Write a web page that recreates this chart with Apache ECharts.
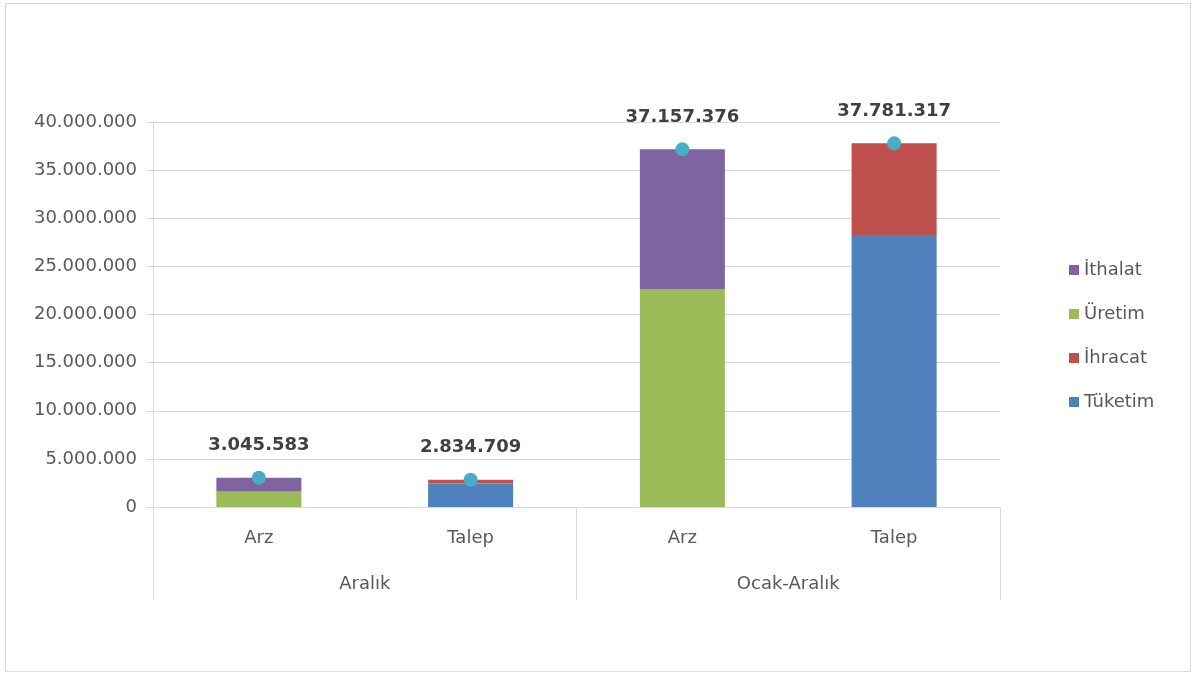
<!DOCTYPE html>
<html>
<head>
<meta charset="utf-8">
<script src="https://cdn.jsdelivr.net/npm/echarts@6/dist/echarts.min.js"></script>
<style>
  html, body { margin: 0; padding: 0; background: #fff; }
  #chart { position: absolute; left: 5px; top: 3px; width: 1184px; height: 667px; border: 1px solid #d9d9d9; }
</style>
</head>
<body>
<div id="chart"></div>
<script>
// categories
const subCats = ['Arz', 'Talep', 'Arz', 'Talep']
const groupCats = ['Aralık', 'Ocak-Aralık']

// series values
const uretim = [1600000, null, 22650000, null]
const ithalat = [1445583, null, 14507376, null]
const tuketim = [null, 2450000, null, 28260000]
const ihracat = [null, 384709, null, 9521317]
const toplam = [3045583, 2834709, 37157376, 37781317]

const fmt = v => String(Math.round(v)).replace(/\B(?=(\d{3})+(?!\d))/g, '.')
const font = '"DejaVu Sans", sans-serif'

const chart = echarts.init(document.getElementById('chart'))
chart.setOption({
    textStyle: { fontFamily: font },
    legend: {
        data: ['İthalat', 'Üretim', 'İhracat', 'Tüketim'],
        orient: 'vertical',
        left: 1058,
        top: 252,
        itemWidth: 10,
        itemHeight: 10,
        itemGap: 26,
        icon: 'rect',
        textStyle: { fontSize: 18, color: '#595959', fontFamily: font }
    },
    grid: {
        left: 147,
        right: 190,
        top: 118,
        bottom: 164
    },
    xAxis: [{
        type: 'category',
        data: subCats,
        axisTick: { show: false },
        axisLine: { lineStyle: { color: '#d9d9d9', width: 1 } },
        axisLabel: { color: '#595959', fontSize: 18, margin: 22 }
    }, {
        type: 'category',
        data: groupCats,
        position: 'bottom',
        axisLine: { show: false },
        axisTick: { show: true, length: 93, lineStyle: { color: '#d9d9d9' } },
        axisLabel: { color: '#595959', fontSize: 18, margin: 68 }
    }],
    yAxis: {
        type: 'value',
        min: 0,
        max: 40000000,
        interval: 5000000,
        axisLine: { show: true, lineStyle: { color: '#d9d9d9' } },
        axisTick: { show: true, length: 7, lineStyle: { color: '#d9d9d9' } },
        axisLabel: { color: '#595959', fontSize: 18, margin: 16, formatter: fmt },
        splitLine: { lineStyle: { color: ['#d9d9d9'], width: 1 } }
    },
    series: [
        { name: 'Üretim', type: 'bar', stack: 'a', barWidth: 85, data: uretim, itemStyle: { color: '#9BBB59' } },
        { name: 'İthalat', type: 'bar', stack: 'a', data: ithalat, itemStyle: { color: '#8064A2' } },
        { name: 'Tüketim', type: 'bar', stack: 'a', data: tuketim, itemStyle: { color: '#4F81BD' } },
        { name: 'İhracat', type: 'bar', stack: 'a', data: ihracat, itemStyle: { color: '#C0504D' } },
        {
            name: 'Toplam',
            type: 'scatter',
            data: toplam,
            symbolSize: 14,
            itemStyle: { color: '#4BACC6', opacity: 1 },
            label: {
                show: true,
                position: 'top',
                distance: 16,
                color: '#404040',
                fontSize: 18,
                fontWeight: 'bold',
                formatter: p => fmt(p.value)
            }
        }
    ]
})
</script>
</body>
</html>
